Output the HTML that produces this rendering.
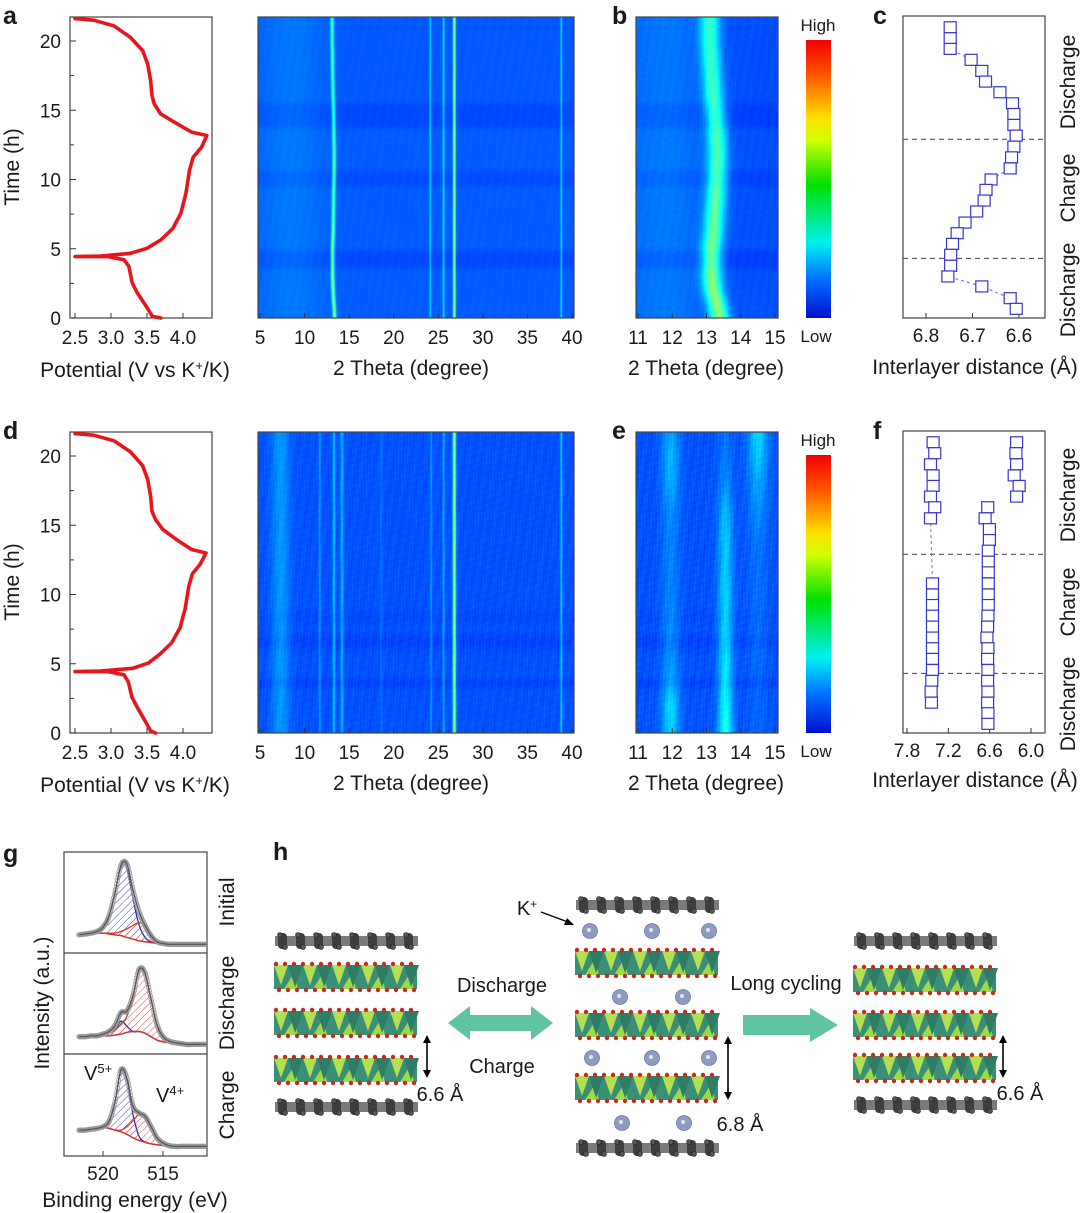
<!DOCTYPE html>
<html><head><meta charset="utf-8">
<style>
body{margin:0;background:#fff}
#root{position:relative;width:1080px;height:1213px;overflow:hidden;background:#fff}
canvas{position:absolute}
svg{position:absolute;left:0;top:0}
text{font-family:"Liberation Sans",Arial,sans-serif;fill:#1a1a1a}
</style></head>
<body>
<div id="root">
<canvas id="hmA" width="316" height="301" style="left:258px;top:17px"></canvas>
<canvas id="hmB" width="142" height="301" style="left:636px;top:17px"></canvas>
<canvas id="hmD" width="316" height="301" style="left:258px;top:432px"></canvas>
<canvas id="hmE" width="142" height="301" style="left:636px;top:432px"></canvas>
<svg id="fig" width="1080" height="1213">
<defs>
<linearGradient id="jet" x1="0" y1="0" x2="0" y2="1">
<stop offset="0" stop-color="#f00000"/><stop offset="0.12" stop-color="#ff5000"/><stop offset="0.28" stop-color="#ffe000"/><stop offset="0.36" stop-color="#d0ff00"/><stop offset="0.52" stop-color="#00e000"/><stop offset="0.73" stop-color="#00f0f0"/><stop offset="0.86" stop-color="#0070ff"/><stop offset="1" stop-color="#0010d0"/>
</linearGradient>
<pattern id="hatchB" width="5" height="5" patternUnits="userSpaceOnUse" patternTransform="rotate(45)"><line x1="0" y1="0" x2="0" y2="5" stroke="#3a4ac0" stroke-width="1"/></pattern>
<pattern id="hatchR" width="5" height="5" patternUnits="userSpaceOnUse" patternTransform="rotate(45)"><line x1="0" y1="0" x2="0" y2="5" stroke="#e05050" stroke-width="1"/></pattern>
<clipPath id="clipG1"><rect x="64" y="852" width="143" height="100"/></clipPath>
<clipPath id="clipG2"><rect x="64" y="953" width="143" height="100"/></clipPath>
<clipPath id="clipG3"><rect x="64" y="1054" width="143" height="102"/></clipPath>
</defs>
<g font-weight="bold" font-size="25">
<text x="3" y="24">a</text>
<text x="612" y="24">b</text>
<text x="873" y="24">c</text>
<text x="3" y="439">d</text>
<text x="612" y="439">e</text>
<text x="873" y="439">f</text>
<text x="3" y="862">g</text>
<text x="273" y="860">h</text>
</g>
<g font-size="21" text-anchor="middle">
<text x="135" y="377">Potential (V vs K<tspan baseline-shift="super" font-size="13">+</tspan>/K)</text>
<text x="135" y="792">Potential (V vs K<tspan baseline-shift="super" font-size="13">+</tspan>/K)</text>
<text transform="translate(19,167) rotate(-90)">Time (h)</text>
<text transform="translate(19,582) rotate(-90)">Time (h)</text>
<text x="411" y="375">2 Theta (degree)</text>
<text x="411" y="790">2 Theta (degree)</text>
<text x="706" y="375">2 Theta (degree)</text>
<text x="706" y="790">2 Theta (degree)</text>
<text x="975" y="374">Interlayer distance (Å)</text>
<text x="975" y="787">Interlayer distance (Å)</text>
<text transform="translate(1075,82) rotate(-90)">Discharge</text>
<text transform="translate(1075,188) rotate(-90)">Charge</text>
<text transform="translate(1075,290) rotate(-90)">Discharge</text>
<text transform="translate(1075,495) rotate(-90)">Discharge</text>
<text transform="translate(1075,602) rotate(-90)">Charge</text>
<text transform="translate(1075,704) rotate(-90)">Discharge</text>
<text transform="translate(49,1003) rotate(-90)">Intensity (a.u.)</text>
<text transform="translate(234,902) rotate(-90)">Initial</text>
<text transform="translate(234,1003) rotate(-90)">Discharge</text>
<text transform="translate(234,1105) rotate(-90)">Charge</text>
<text x="135" y="1207">Binding energy (eV)</text>
</g>
<g font-size="17" text-anchor="middle">
<text x="818" y="31">High</text>
<text x="816" y="342">Low</text>
<text x="818" y="446">High</text>
<text x="816" y="757">Low</text>
</g>
<rect x="806" y="40" width="25" height="278" fill="url(#jet)"/>
<rect x="806" y="455" width="25" height="278" fill="url(#jet)"/>
<g id="layer"></g>
</svg>
</div>
<script>
// ---------- DATA ----------
const potT_a=[0,0.12,0.72,1.82,2.54,3.74,4.2,4.43,4.43,4.47,4.67,5.03,5.63,6.47,7.55,8.99,10.67,11.6,12.35,13.18,13.42,14.14,14.74,15.46,16.06,17.14,18.34,19.3,20.26,21.1,21.5,21.62];
const potV_a=[3.69,3.574,3.504,3.364,3.294,3.247,3.18,2.96,2.5,2.85,3.27,3.5,3.69,3.86,3.97,4.04,4.09,4.14,4.26,4.33,4.12,3.88,3.69,3.6,3.57,3.55,3.51,3.44,3.27,3.04,2.76,2.5];
const potT_d=[0,0.15,0.8,1.9,2.6,3.7,4.2,4.43,4.43,4.47,4.67,5.05,5.7,6.5,7.6,9.0,10.6,11.5,12.2,13.0,13.25,14.0,14.7,15.4,16.0,17.1,18.3,19.3,20.3,21.1,21.5,21.62];
const potV_d=[3.62,3.55,3.48,3.36,3.29,3.24,3.18,2.96,2.5,2.85,3.3,3.52,3.68,3.84,3.96,4.03,4.08,4.13,4.24,4.32,4.12,3.9,3.72,3.62,3.57,3.55,3.51,3.44,3.27,3.04,2.76,2.5];

const cTime=[20.99,20.2,19.43,18.64,17.84,17.07,16.3,15.5,14.73,13.94,13.17,12.37,11.6,10.8,10.0,9.25,8.48,7.69,6.89,6.12,5.35,4.56,3.77,3.0,2.28,1.43,0.66];
const cDist=[6.748,6.748,6.748,6.703,6.68,6.672,6.641,6.614,6.611,6.611,6.606,6.611,6.616,6.619,6.66,6.671,6.675,6.691,6.716,6.733,6.743,6.747,6.747,6.753,6.68,6.619,6.606];

const fS1Time=[20.99,20.2,19.4,18.6,17.84,17.07,16.3,15.5,10.8,10.0,9.24,8.47,7.68,6.89,6.12,5.35,4.55,3.76,2.99,2.19];
const fS1Dist=[7.421,7.397,7.459,7.421,7.421,7.459,7.397,7.459,7.43,7.43,7.43,7.43,7.43,7.43,7.43,7.43,7.43,7.44,7.45,7.445];
const fS2Time=[16.3,15.5,14.72,13.93,13.16,12.37,11.6,10.8,10.0,9.24,8.47,7.68,6.89,6.12,5.35,4.55,3.76,2.99,2.19,1.43,0.66];
const fS2Dist=[6.628,6.666,6.604,6.604,6.62,6.62,6.62,6.62,6.62,6.62,6.625,6.63,6.64,6.625,6.63,6.625,6.63,6.625,6.63,6.625,6.625];
const fS3Time=[20.99,20.2,19.4,18.6,17.84,17.07];
const fS3Dist=[6.209,6.219,6.209,6.244,6.172,6.209];
const stageBounds=[4.3,12.9];

// heatmap a/b
const hmBgT=[0,3.3,3.8,4.6,5.2,9.2,9.7,10.4,10.9,13.4,14.0,15.2,15.8,21.8];
const hmBgA=[0.215,0.215,0.197,0.197,0.215,0.215,0.202,0.202,0.215,0.215,0.197,0.197,0.212,0.212];
const peakPosA=[8.5,24.1,25.6,26.8,38.8];
const peakAmpA=[0.03,0.13,0.14,0.33,0.14];
const peakWidA=[2.5,0.07,0.08,0.1,0.07];
const mainT=[0,1,2,3,4,5,6,8,10,12,13,14,16,18,20,21.8];
const mainPos=[13.38,13.3,13.2,13.15,13.15,13.15,13.2,13.25,13.3,13.32,13.3,13.28,13.2,13.15,13.1,13.1];
const mainAmp=[0.3,0.3,0.3,0.29,0.28,0.28,0.27,0.26,0.25,0.24,0.24,0.23,0.23,0.22,0.22,0.22];
// heatmap d/e
const hmBgTD=[0,3.0,3.6,4.2,5.6,6.6,7.5,8.3,9,21.8];
const hmBgD=[0.205,0.205,0.19,0.205,0.205,0.19,0.205,0.197,0.205,0.205];
const peakPosD=[7.3,11.7,13.3,14.2,18.6,24.2,25.6,26.8,38.8];
const peakAmpD=[0.07,0.08,0.12,0.1,0.03,0.08,0.1,0.33,0.13];
const peakWidD=[0.7,0.08,0.1,0.12,0.1,0.07,0.08,0.12,0.08];
const eT=[0,2,4,6,8,10,12,14,16,18,20,21.8];
const ePos=[11.95,13.55,14.5];
const eWid=[0.18,0.15,0.2];
const eAmp1=[0.12,0.14,0.08,0.06,0.06,0.05,0.05,0.05,0.06,0.09,0.1,0.08];
const eAmp2=[0.2,0.17,0.15,0.14,0.13,0.13,0.12,0.12,0.1,0.06,0.04,0.03];
const eAmp3=[0.02,0.02,0.02,0.03,0.03,0.03,0.03,0.04,0.06,0.08,0.12,0.13];

// XPS
const beGrid=[522,521.5,521,520.5,520,519.5,519,518.5,518,517.5,517,516.5,516,515.5,515,514.5,514,513.5,513,512.5,512,511.5,511];
const xpsBg=[
[0.13,0.14,0.15,0.15,0.15,0.14,0.13,0.12,0.10,0.08,0.06,0.05,0.04,0.03,0.03,0.02,0.02,0.02,0.02,0.02,0.02,0.02,0.02],
[0.12,0.12,0.13,0.13,0.13,0.13,0.14,0.15,0.17,0.18,0.18,0.16,0.12,0.08,0.06,0.05,0.04,0.03,0.03,0.03,0.03,0.03,0.03],
[0.22,0.22,0.23,0.24,0.25,0.24,0.22,0.20,0.17,0.13,0.10,0.08,0.06,0.05,0.04,0.03,0.03,0.03,0.03,0.03,0.03,0.03,0.03]];
const xpsV5=[
[0.13,0.14,0.15,0.17,0.22,0.35,0.62,0.92,0.90,0.55,0.25,0.10,0.05,0.03,0.03,0.02,0.02,0.02,0.02,0.02,0.02,0.02,0.02],
[0.12,0.12,0.13,0.13,0.14,0.16,0.20,0.30,0.24,0.18,0.18,0.16,0.12,0.08,0.06,0.05,0.04,0.03,0.03,0.03,0.03,0.03,0.03],
[0.22,0.22,0.23,0.24,0.26,0.32,0.55,0.92,0.80,0.40,0.15,0.08,0.06,0.05,0.04,0.03,0.03,0.03,0.03,0.03,0.03,0.03,0.03]];
const xpsV4=[
[0.13,0.14,0.15,0.15,0.15,0.15,0.15,0.17,0.20,0.24,0.27,0.24,0.14,0.06,0.04,0.02,0.02,0.02,0.02,0.02,0.02,0.02,0.02],
[0.12,0.12,0.13,0.13,0.14,0.16,0.20,0.27,0.36,0.58,0.88,0.85,0.55,0.25,0.12,0.07,0.05,0.04,0.03,0.03,0.03,0.03,0.03],
[0.22,0.22,0.23,0.24,0.25,0.24,0.22,0.22,0.26,0.33,0.40,0.38,0.26,0.13,0.07,0.04,0.03,0.03,0.03,0.03,0.03,0.03,0.03]];
const xpsTotal=[
[0.13,0.14,0.15,0.17,0.22,0.35,0.62,0.94,0.95,0.65,0.40,0.24,0.12,0.05,0.03,0.02,0.02,0.02,0.02,0.02,0.02,0.02,0.02],
[0.12,0.12,0.13,0.13,0.15,0.18,0.25,0.40,0.42,0.60,0.90,0.86,0.56,0.26,0.12,0.07,0.05,0.04,0.03,0.03,0.03,0.03,0.03],
[0.22,0.22,0.23,0.24,0.26,0.32,0.55,0.92,0.82,0.50,0.42,0.38,0.26,0.13,0.07,0.04,0.03,0.03,0.03,0.03,0.03,0.03,0.03]];
const xpsBottoms=[952,1053,1155];

const potTicks=[2.5,3.0,3.5,4.0];
const timeTicks=[0,5,10,15,20];
const thetaTicksA=[5,10,15,20,25,30,35,40];
const thetaTicksB=[11,12,13,14,15];
const cTicks=[6.8,6.7,6.6];
const fTicks=[7.8,7.2,6.6,6.0];
const beTicks=[520,515];

// ---------- HELPERS ----------
const NS='http://www.w3.org/2000/svg';
const L=document.getElementById('layer');
function mk(tag,parent){const e=document.createElementNS(NS,tag);(parent||L).appendChild(e);return e;}
function at(e,o){for(const k in o)e.setAttribute(k,o[k]);return e;}
function lin(d0,d1,p0,p1){return v=>p0+(v-d0)*(p1-p0)/(d1-d0);}
function interp(xs,ys,x){if(x<=xs[0])return ys[0];for(let i=1;i<xs.length;i++){if(x<=xs[i]){const f=(x-xs[i-1])/(xs[i]-xs[i-1]);return ys[i-1]+f*(ys[i]-ys[i-1]);}}return ys[ys.length-1];}
function jet(v){const c=t=>Math.max(0,Math.min(1,t));return [c(1.5-Math.abs(4*v-3))*255,c(1.5-Math.abs(4*v-2))*255,c(1.5-Math.abs(4*v-1))*255];}
function frame(x,y,w,h,name){const r=mk('rect');at(r,{x:x,y:y,width:w,height:h,fill:'none',stroke:'#444','stroke-width':1.2});return r;}
function label(x,y,s,size,anchor){const t=mk('text');at(t,{x:x,y:y,'font-size':size,'text-anchor':anchor||'middle'});t.textContent=s;return t;}

// ---------- HEATMAPS ----------
function heat(id,left,top,thFn,tFn,fn,noise){
  const cv=document.getElementById(id),ctx=cv.getContext('2d');
  const W=cv.width,H=cv.height,img=ctx.createImageData(W,H);
  for(let py=0;py<H;py++){const t=tFn(top+py+0.5);
    for(let px=0;px<W;px++){const th=thFn(left+px+0.5);
      let v=fn(th,t);
      v+=noise*(Math.sin(px*1.93+Math.sin(py*0.05)*2)*0.6+Math.sin(px*0.71+py*0.11)*0.4+Math.sin(py*0.9+px*0.3)*0.3);
      const c=jet(v),k=(py*W+px)*4;img.data[k]=c[0];img.data[k+1]=c[1];img.data[k+2]=c[2];img.data[k+3]=255;}}
  ctx.putImageData(img,0,0);
}
const g=(x,m,w)=>Math.exp(-0.5*((x-m)/w)*((x-m)/w));
const yA=lin(0,20,318,41), yD=lin(0,20,733,456);
const tA=p=>(p-318)/(41-318)*20, tD=p=>(p-733)/(456-733)*20;
const xA=lin(5,40,260,572), xB=lin(11,15,638,775);
const thA=p=>5+(p-260)*35/(572-260), thB=p=>11+(p-638)*4/(775-638);
function fieldA(th,t,mw){let v=interp(hmBgT,hmBgA,t);for(let i=0;i<peakPosA.length;i++)v+=peakAmpA[i]*g(th,peakPosA[i],peakWidA[i]);
  v+=interp(mainT,mainAmp,t)*g(th,interp(mainT,mainPos,t),mw);return v;}
heat('hmA',258,17,thA,tA,(th,t)=>fieldA(th,t,0.14),0.008);
heat('hmB',636,17,thB,tA,(th,t)=>fieldA(th,t,0.2)+0.03*g(th,11.9,0.7)-0.012,0.01);
function fieldD(th,t){let v=interp(hmBgTD,hmBgD,t);for(let i=0;i<peakPosD.length;i++)v+=peakAmpD[i]*g(th,peakPosD[i],peakWidD[i]);return v;}
heat('hmD',258,432,thA,tD,fieldD,0.016);
heat('hmE',636,432,thB,tD,(th,t)=>{let v=interp(hmBgTD,hmBgD,t);v+=interp(eT,eAmp1,t)*g(th,ePos[0],eWid[0])+interp(eT,eAmp2,t)*g(th,ePos[1],eWid[1])+interp(eT,eAmp3,t)*g(th,ePos[2],eWid[2]);return v;},0.02);

function heatAxes(x0,y0,w,h,ticks,xf,suffix){
  frame(x0,y0,w,h,'heatmap-frame-'+suffix);
  ticks.forEach(v=>{const x=xf(v);const l=mk('line');at(l,{x1:x,x2:x,y1:y0+h,y2:y0+h-5,stroke:'#333'});
    
    
    const t=label(x,y0+h+26,String(v),19);
    
    });
}
heatAxes(258,17,316,301,thetaTicksA,xA,'a-heat');
heatAxes(636,17,142,301,thetaTicksB,xB,'b');
heatAxes(258,432,316,301,thetaTicksA,xA,'d-heat');
heatAxes(636,432,142,301,thetaTicksB,xB,'e');

// ---------- POTENTIAL ----------
const xP=lin(2.5,4.0,75,183);
function potPanel(top,yf,T,V,suffix){
  const bottom=top+301;
  frame(70,top,142,301,'potential-frame-'+suffix);
  potTicks.forEach(v=>{const x=xP(v);const l=mk('line');at(l,{x1:x,x2:x,y1:bottom,y2:bottom-5,stroke:'#333'});
    
    
    const t=label(x,bottom+26,v.toFixed(1),19);
    
    });
  timeTicks.forEach(v=>{const y=yf(v);const l=mk('line');at(l,{x1:70,x2:76,y1:y,y2:y,stroke:'#333'});
    
    
    if(v+2.5<21.5){const m=mk('line');at(m,{x1:70,x2:74,y1:yf(v+2.5),y2:yf(v+2.5),stroke:'#333'});
    
    }
    const t=label(61,y+7,String(v),19,'end');
    
    });
  const p=mk('polyline');at(p,{points:T.map((t,i)=>xP(V[i]).toFixed(1)+','+yf(t).toFixed(1)).join(' '),fill:'none',stroke:'#e8161c','stroke-width':3.6,'stroke-linejoin':'round','stroke-linecap':'round'});
  
  
}
potPanel(17,yA,potT_a,potV_a,'a');
potPanel(432,yD,potT_d,potV_d,'d');

// ---------- INTERLAYER ----------
function distPanel(top,yf,xf,ticks,series,suffix){
  const bottom=top+302;
  frame(903,top,142,302,'interlayer-frame-'+suffix);
  ticks.forEach(v=>{const x=xf(v);const l=mk('line');at(l,{x1:x,x2:x,y1:bottom,y2:bottom-5,stroke:'#333'});
    
    
    const t=label(x,bottom+24,v.toFixed(1),19);
    
    });
  stageBounds.forEach(b=>{const y=yf(b);const l=mk('line');at(l,{x1:903,x2:1045,y1:y,y2:y,stroke:'#555','stroke-dasharray':'5,4','stroke-width':1.2});
    
    });
  series.forEach(([T,D])=>{
    const pl=mk('polyline');at(pl,{points:T.map((t,i)=>xf(D[i]).toFixed(1)+','+yf(t).toFixed(1)).join(' '),fill:'none',stroke:'#6a6ad8','stroke-dasharray':'3,3','stroke-width':1});
    
    
    T.forEach((t,i)=>{const r=mk('rect');at(r,{x:xf(D[i])-6,y:yf(t)-5.5,width:12,height:11,fill:'#fff',stroke:'#3535d0','stroke-width':1.2});
      
      });
  });
}
distPanel(16,yA,lin(6.8,6.6,926,1019),cTicks,[[cTime,cDist]],'c');
distPanel(431,yD,lin(7.8,6.0,907,1031),fTicks,[[fS1Time,fS1Dist],[fS2Time,fS2Dist],[fS3Time,fS3Dist]],'f');

// ---------- XPS ----------
const xE=lin(520,515,103,163);
function smooth(xs,ys,step){const out=[];for(let i=0;i<xs.length-1;i++){const p0=ys[Math.max(0,i-1)],p1=ys[i],p2=ys[i+1],p3=ys[Math.min(ys.length-1,i+2)];
  for(let s=0;s<step;s++){const u=s/step;const y=0.5*((2*p1)+(-p0+p2)*u+(2*p0-5*p1+4*p2-p3)*u*u+(-p0+3*p1-3*p2+p3)*u*u*u);out.push([xs[i]+(xs[i+1]-xs[i])*u,y]);}}
  out.push([xs[xs.length-1],ys[ys.length-1]]);return out;}
frame(64,852,143,304,'xps-frame');
[953,1054].forEach(y=>{const l=mk('line');at(l,{x1:64,x2:207,y1:y,y2:y,stroke:'#444','stroke-width':1.2});
  
  });
beTicks.forEach(v=>{const x=xE(v);const l=mk('line');at(l,{x1:x,x2:x,y1:1156,y2:1151,stroke:'#333'});
  
  
  const t=label(x,1180,String(v),19);
  
  });
xpsBottoms.forEach((b,k)=>{
  const yf=v=>b-6-v*86;
  const grp=mk('g');grp.setAttribute('clip-path','url(#clipG'+(k+1)+')');
  
  
  const bg=smooth(beGrid,xpsBg[k],6);
  const path=(arr)=>arr.map(p=>xE(p[0]).toFixed(1)+','+yf(p[1]).toFixed(1)).join(' ');
  [[xpsV5[k],'url(#hatchB)','#2a2ab0','xps-v5-component'],[xpsV4[k],'url(#hatchR)','#d83030','xps-v4-component']].forEach(([arr,fill,col,name])=>{
    const c=smooth(beGrid,arr,6);
    const a=mk('polygon',grp);at(a,{points:path(c)+' '+path(bg.slice().reverse()),fill:fill,stroke:'none'});
    
    
    const ln=mk('polyline',grp);at(ln,{points:path(c),fill:'none',stroke:col,'stroke-width':1.3});
    
    
  });
  const bl=mk('polyline',grp);at(bl,{points:path(bg),fill:'none',stroke:'#d83030','stroke-width':1.5});
  
  
  const tot=smooth(beGrid,xpsTotal[k],10);
  tot.forEach(p=>{const c=mk('circle',grp);at(c,{cx:xE(p[0]).toFixed(1),cy:yf(p[1]).toFixed(1),r:2.2,fill:'none',stroke:'#9a9a9a','stroke-width':0.8});
    
    });
  const tl=mk('polyline',grp);at(tl,{points:path(tot),fill:'none',stroke:'#555','stroke-width':1.2});
  
  
});
const v5=label(84,1080,'V',20,'start');v5.innerHTML='V<tspan baseline-shift="super" font-size="13">5+</tspan>';


const v4=label(156,1102,'V',20,'start');v4.innerHTML='V<tspan baseline-shift="super" font-size="13">4+</tspan>';



// ---------- SCHEMATIC (h) ----------
function graphite(x,y,w){const gg=mk('g');
  
  
  at(mk('rect',gg),{x:x,y:y-5,width:w,height:10,fill:'#7a7a7a'});
  for(let i=0;i<w;i+=18){at(mk('rect',gg),{x:x+i+3,y:y-8,width:9,height:16,rx:4,fill:'#3e3e3e'});
    at(mk('circle',gg),{cx:x+i+5,cy:y-6,r:2.5,fill:'#555',stroke:'#222','stroke-width':0.6});
    at(mk('circle',gg),{cx:x+i+10,cy:y+6,r:2.5,fill:'#555',stroke:'#222','stroke-width':0.6});}
}
function vlayer(x,y,w){const gg=mk('g');
  
  
  at(mk('rect',gg),{x:x,y:y-12,width:w,height:24,fill:'#3b8f76'});
  for(let i=0;i<w-10;i+=29){
    at(mk('polygon',gg),{points:`${x+i},${y-12} ${x+i+14},${y-12} ${x+i+7},${y+8}`,fill:'#b2e050'});
    at(mk('polygon',gg),{points:`${x+i+10},${y+12} ${x+i+20},${y-4} ${x+i+24},${y+12}`,fill:'#9fd848'});
    at(mk('polygon',gg),{points:`${x+i+14},${y-12} ${x+i+29},${y-12} ${x+i+21},${y+10}`,fill:'#2f7d66'});}
  for(let i=2;i<w;i+=9){at(mk('circle',gg),{cx:x+i,cy:y-13,r:2.2,fill:'#c8281e'});at(mk('circle',gg),{cx:x+i+3,cy:y+13,r:2.2,fill:'#c8281e'});}
}
function kion(x,y){const c=mk('circle');at(c,{cx:x,cy:y,r:7.5,fill:'#8d9cc0',stroke:'#6e7ca0','stroke-width':0.8});
  
  
  at(mk('circle'),{cx:x-1,cy:y-1,r:2,fill:'#e0e6f5'});}
function varrow(x,y1,y2,name){const l=mk('line');at(l,{x1:x,x2:x,y1:y1+6,y2:y2-6,stroke:'#000','stroke-width':1.6});
  
  
  at(mk('polygon'),{points:`${x-4},${y1+8} ${x+4},${y1+8} ${x},${y1}`,fill:'#000'});
  at(mk('polygon'),{points:`${x-4},${y2-8} ${x+4},${y2-8} ${x},${y2}`,fill:'#000'});}
graphite(275,941,143);[977,1023,1070].forEach(y=>vlayer(274,y,143));graphite(275,1107,143);
graphite(576,905,143);[963,1025,1088].forEach(y=>vlayer(575,y,143));graphite(576,1148,143);
[[590,931],[652,931],[709,931],[620,997],[683,997],[592,1058],[652,1058],[709,1058],[622,1123],[684,1123]].forEach(p=>kion(p[0],p[1]));
graphite(854,941,143);[980,1025,1068].forEach(y=>vlayer(853,y,143));graphite(854,1105,143);
varrow(427,1035,1078,'spacing-arrow-left');varrow(728,1036,1100,'spacing-arrow-middle');varrow(1003,1035,1078,'spacing-arrow-right');
const da=mk('polygon');at(da,{points:'448,1023 470,1006 470,1015 531,1015 531,1006 553,1023 531,1040 531,1031 470,1031 470,1040',fill:'#5fc4a2'});


const ra=mk('polygon');at(ra,{points:'743,1015 810,1015 810,1008 838,1025 810,1042 810,1035 743,1035',fill:'#5fc4a2'});


[[502,992,'Discharge','label-discharge-h'],[502,1073,'Charge','label-charge-h'],[786,990,'Long cycling','label-long-cycling'],[440,1101,'6.6 Å','label-spacing-left'],[740,1131,'6.8 Å','label-spacing-middle'],[1020,1100,'6.6 Å','label-spacing-right']].forEach(a=>{
  const t=label(a[0],a[1],a[2],20);
  
  });
const kl=label(527,915,'K',20);kl.innerHTML='K<tspan baseline-shift="super" font-size="12">+</tspan>';


const kline=mk('line');at(kline,{x1:541,y1:912,x2:568,y2:922,stroke:'#000','stroke-width':1.4});


at(mk('polygon'),{points:'574,925 564,925 567,918',fill:'#000'});
</script>
</body></html>
